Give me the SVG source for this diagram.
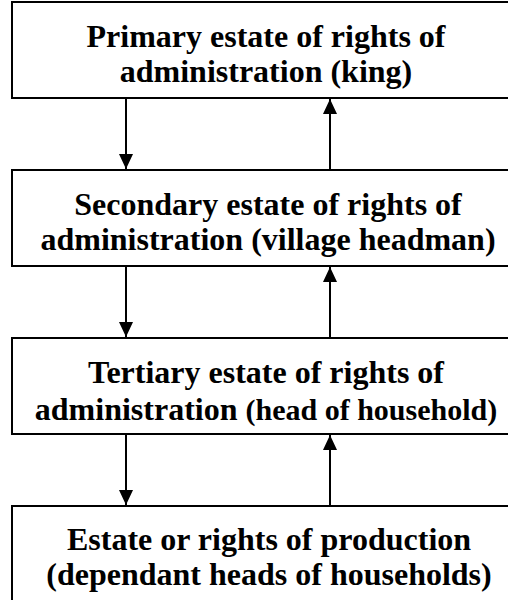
<svg xmlns="http://www.w3.org/2000/svg" width="508" height="600" viewBox="0 0 508 600">
  <style>
    .box { fill: #ffffff; stroke: #000000; stroke-width: 2; }
    .conn { stroke: #000000; stroke-width: 2; fill: none; marker-end: url(#head); }
  </style>
  <defs>
    <marker id="head" markerUnits="userSpaceOnUse" markerWidth="16" markerHeight="14" refX="15" refY="7" orient="auto">
      <path d="M0,0 L15,7 L0,14 Z" fill="#000000"/>
    </marker>
  </defs>
  <rect width="508" height="600" fill="#ffffff"/>

  <g id="primary">
    <rect class="box" x="12" y="2" width="520" height="96"/>
    <text x="266" y="47" font-family="Liberation Serif" font-weight="bold" font-size="32" text-anchor="middle">Primary estate of rights of</text>
    <text x="266" y="82" font-family="Liberation Serif" font-weight="bold" font-size="32" text-anchor="middle">administration (king)</text>
  </g>

  <g id="secondary">
    <rect class="box" x="12" y="170" width="520" height="96"/>
    <text x="268" y="215" font-family="Liberation Serif" font-weight="bold" font-size="32" text-anchor="middle">Secondary estate of rights of</text>
    <text x="268" y="250" font-family="Liberation Serif" font-weight="bold" font-size="32" text-anchor="middle">administration (village headman)</text>
  </g>

  <g id="tertiary">
    <rect class="box" x="12" y="338" width="520" height="96"/>
    <text x="266" y="383" font-family="Liberation Serif" font-weight="bold" font-size="32" text-anchor="middle">Tertiary estate of rights of</text>
    <text x="266" y="420" font-family="Liberation Serif" font-weight="bold" font-size="32" text-anchor="middle">administration <tspan font-size="30">(head of household)</tspan></text>
  </g>

  <g id="production">
    <rect class="box" x="12" y="506" width="520" height="120"/>
    <text x="269" y="550" font-family="Liberation Serif" font-weight="bold" font-size="32" text-anchor="middle">Estate or rights of production</text>
    <text x="269" y="585" font-family="Liberation Serif" font-weight="bold" font-size="32" text-anchor="middle">(dependant heads of households)</text>
  </g>

  <g id="connectors">
    <line class="conn" x1="126" y1="99" x2="126" y2="169"/>
    <line class="conn" x1="330" y1="169" x2="330" y2="99"/>
    <line class="conn" x1="126" y1="267" x2="126" y2="337"/>
    <line class="conn" x1="330" y1="337" x2="330" y2="267"/>
    <line class="conn" x1="126" y1="435" x2="126" y2="505"/>
    <line class="conn" x1="330" y1="505" x2="330" y2="435"/>
  </g>
</svg>
